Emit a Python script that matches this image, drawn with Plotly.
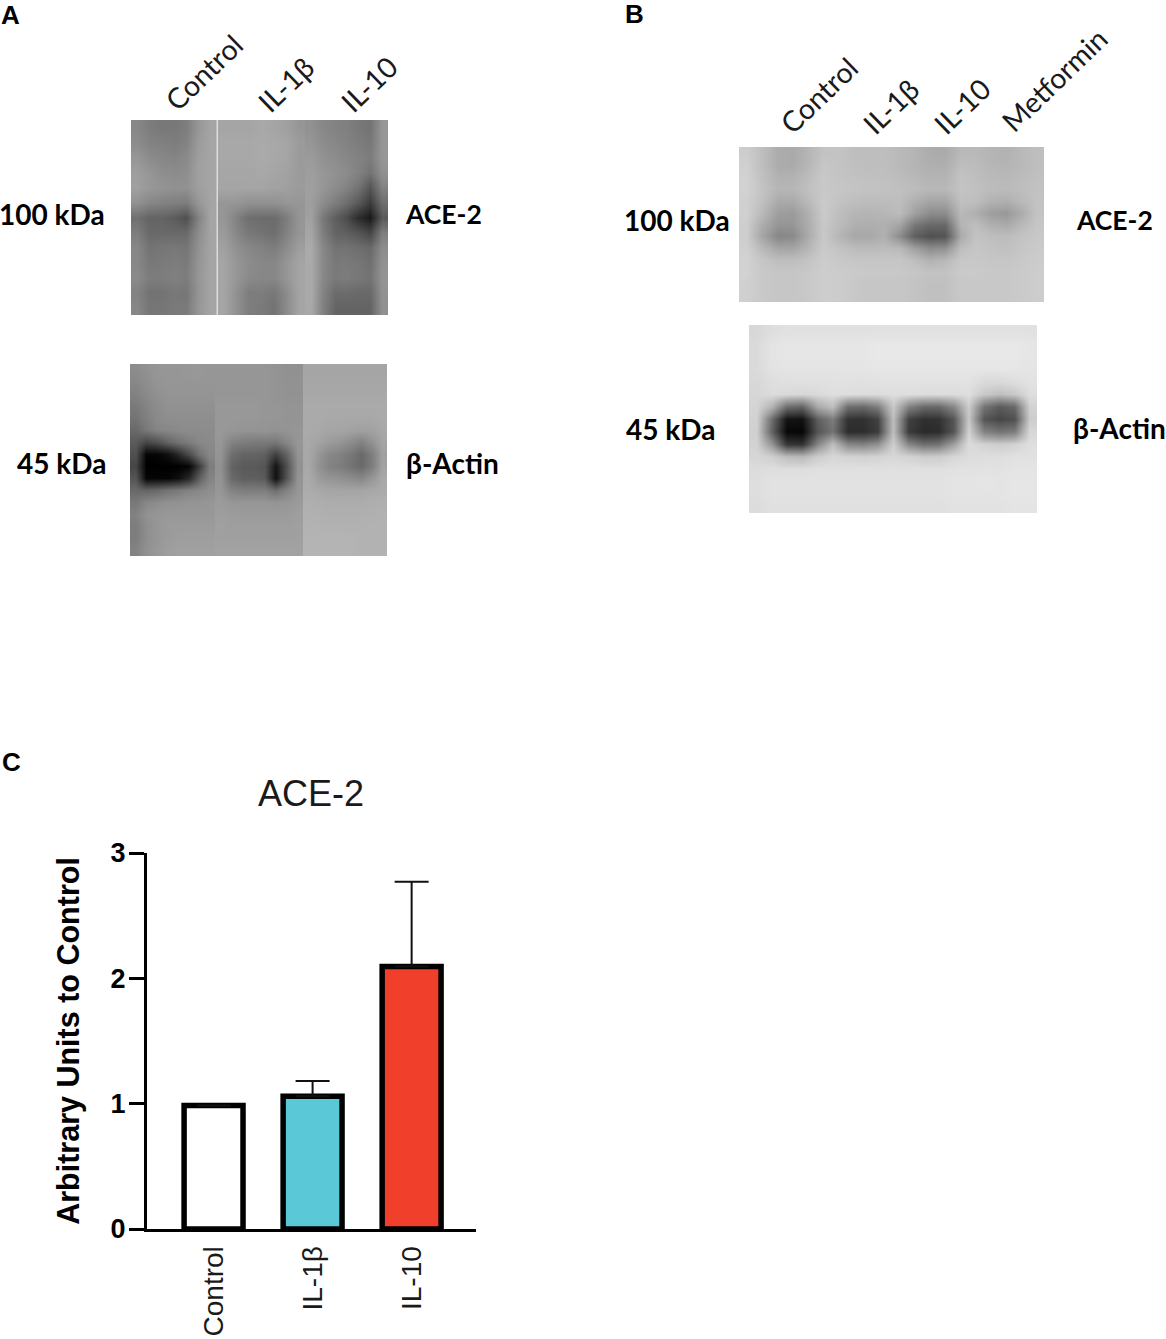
import plotly.graph_objects as go

W, H = 1166, 1339

# ---------- bar chart data ----------
categories = ["Control", "IL-1β", "IL-10"]
values = [0.985, 1.06, 2.095]
errors = [0.0, 0.12, 0.675]
bar_colors = ["#ffffff", "#5bc8d8", "#f0402b"]

# ---------- blot densities (grey levels) ----------
a_top_control = [
    [135,125,120,120,125,150,165],
    [140,130,128,125,130,155,165],
    [150,140,135,132,138,158,165],
    [158,150,142,140,142,160,165],
    [160,152,148,145,145,158,165],
    [145,135,130,128,125,150,165],
    [112,100,100,92,80,130,165],
    [125,105,105,105,105,140,165],
    [135,115,118,120,118,145,165],
    [135,120,122,125,122,148,165],
    [138,125,125,128,125,150,165],
    [130,115,115,120,118,148,165],
    [135,118,118,122,122,150,165],
]
a_top_il1 = [
    [165,165,165,168,165,160,150],
    [168,168,168,170,168,165,155],
    [168,168,168,170,168,165,155],
    [166,166,166,168,165,162,155],
    [165,165,165,165,162,160,155],
    [150,150,145,145,145,150,150],
    [150,130,110,108,108,125,150],
    [155,135,120,115,110,130,150],
    [160,145,135,130,125,140,158],
    [165,150,140,135,135,150,165],
    [165,150,138,135,135,150,165],
    [165,145,125,125,120,140,165],
    [165,145,125,122,115,140,165],
]
a_top_il10 = [
    [145,135,130,128,120,115,150],
    [150,140,135,130,125,120,150],
    [155,145,140,135,130,125,150],
    [158,150,145,140,130,115,145],
    [160,150,140,130,115,85,130],
    [158,140,125,110,90,60,110],
    [160,120,95,75,45,25,90],
    [165,125,100,95,85,70,125],
    [170,135,115,115,110,105,140],
    [170,135,120,122,118,112,145],
    [170,135,122,125,120,115,148],
    [170,130,108,108,105,105,145],
    [168,128,100,100,100,100,145],
]
a_bot_control = [
    [140,145,150,150,150,152,152,150],
    [135,142,148,150,150,150,150,150],
    [130,138,145,148,148,148,148,148],
    [122,132,140,145,145,145,145,145],
    [115,128,138,142,142,142,142,142],
    [105,120,132,135,138,140,140,140],
    [90,70,80,100,115,125,135,138],
    [80,5,5,15,40,75,115,135],
    [70,0,0,0,0,5,60,125],
    [85,5,5,5,15,40,95,132],
    [105,100,105,115,122,130,135,142],
    [120,135,140,145,145,148,148,150],
    [130,145,150,152,152,152,152,152],
    [125,142,150,155,155,155,155,155],
    [125,142,150,155,158,158,158,158],
    [130,145,152,158,160,160,160,160],
]
a_bot_il1 = [
    [150,150,150,150,150,148,145,145],
    [150,150,150,150,150,148,146,146],
    [150,150,150,150,150,148,146,146],
    [152,152,152,152,150,150,148,148],
    [152,152,152,152,150,150,148,148],
    [152,150,148,148,148,146,148,150],
    [150,130,125,122,122,120,135,150],
    [148,110,100,100,95,65,100,148],
    [145,100,90,90,85,20,80,145],
    [148,105,95,95,90,15,85,148],
    [150,130,125,125,125,110,130,150],
    [155,150,150,150,150,148,150,155],
    [158,156,155,155,155,155,155,158],
    [160,158,158,158,158,158,158,160],
    [160,160,160,160,160,160,160,160],
    [162,162,162,162,162,162,162,162],
]
a_bot_il10 = [
    [165,165,165,165,165,165,165,165],
    [166,166,166,166,166,166,166,166],
    [168,168,168,168,168,168,168,168],
    [170,170,170,170,170,170,170,170],
    [170,170,168,168,168,168,168,170],
    [170,168,165,165,162,160,162,168],
    [168,162,155,150,140,130,145,165],
    [168,150,135,130,120,105,125,160],
    [168,145,130,125,115,105,125,162],
    [170,155,148,145,140,135,150,168],
    [172,168,165,165,165,165,168,170],
    [175,174,172,172,172,172,174,175],
    [177,176,175,175,175,175,176,177],
    [178,178,177,177,177,177,178,178],
    [180,180,180,180,180,178,178,178],
    [180,180,180,180,180,178,178,178],
]
b_top = [
    [205,190,172,170,180,195,195,190,190,190,185,180,172,170,185,185,180,178,185,190],
    [208,190,172,170,182,198,195,192,190,190,185,180,175,175,190,188,182,180,185,190],
    [210,192,178,178,188,200,196,194,192,192,188,184,180,180,195,190,186,184,188,192],
    [210,195,182,182,192,200,198,196,194,194,192,188,184,184,196,192,188,186,190,194],
    [208,192,170,170,185,202,195,190,188,188,190,175,165,165,192,190,178,175,185,195],
    [208,185,158,155,175,202,190,182,180,182,188,160,140,140,185,175,158,152,172,195],
    [206,172,150,150,172,200,188,176,174,176,165,120,105,105,180,190,175,170,185,198],
    [206,165,135,138,170,200,182,168,168,176,140,95,80,85,170,195,190,188,195,200],
    [208,185,165,165,182,202,195,188,186,188,185,160,140,145,190,198,195,192,198,202],
    [210,198,190,190,195,204,200,198,198,198,198,190,178,185,200,200,198,198,200,204],
    [210,200,198,198,200,205,204,202,200,200,200,198,195,195,202,202,200,200,202,205],
    [208,200,198,198,200,205,204,200,198,198,198,195,192,192,200,200,200,200,202,205],
    [208,200,198,198,200,205,204,200,198,198,198,195,192,192,200,200,200,200,202,205],
]
b_bot = [
    [215,222,225,225,225,225,225,225,225,225,225,225,225,225,225,225,225,225,225],
    [218,228,230,230,230,230,230,230,232,232,232,232,232,232,232,232,232,232,230],
    [218,228,230,230,230,230,230,230,232,232,232,232,232,232,232,232,232,232,230],
    [218,226,228,228,228,228,228,228,230,230,230,230,230,230,230,230,230,230,228],
    [216,222,224,224,224,225,225,225,226,226,226,226,226,226,226,218,218,222,226],
    [214,220,218,215,218,222,222,220,220,222,222,220,220,220,222,200,190,200,222],
    [212,180,110,100,170,190,110,105,125,200,130,105,105,135,205,115,90,105,210],
    [210,110,20,18,95,125,50,48,65,190,65,48,50,85,200,85,70,80,205],
    [208,100,8,6,85,115,45,45,60,190,58,42,45,85,210,130,115,125,215],
    [210,150,55,50,135,190,135,130,145,205,135,110,115,160,220,210,205,210,222],
    [214,208,190,185,205,215,212,210,212,215,212,205,205,215,220,222,222,225,225],
    [220,222,222,222,224,224,224,224,224,224,224,224,224,225,226,226,226,228,228],
    [222,226,226,226,226,226,226,226,226,226,226,226,226,228,228,230,228,230,230],
    [222,226,226,226,226,226,226,226,226,226,226,226,226,228,228,228,228,230,230],
    [220,224,224,224,224,224,224,224,224,224,224,224,224,226,226,226,226,228,228],
]

# ---------- text ----------
lane_texts = ["Control", "IL-1β", "IL-10", "Control", "IL-1β", "IL-10", "Metformin"]
side_texts = ["100 kDa", "ACE-2", "45 kDa", "β-Actin", "100 kDa", "ACE-2", "45 kDa", "β-Actin"]
panel_texts = ["A", "B", "C"]

# ---------- page layout (pixels on the page) ----------
blot_boxes = [
    (a_top_control, 131, 216.7, 120, 315),
    (a_top_il1, 217.4, 305, 120, 315),
    (a_top_il10, 305, 388, 120, 315),
    (a_bot_control, 130, 215, 364, 556),
    (a_bot_il1, 215, 303, 364, 556),
    (a_bot_il10, 303, 387, 364, 556),
    (b_top, 739, 1044, 147, 302),
    (b_bot, 749, 1037, 325, 513),
]
lane_xy = [(204, 72), (286, 84), (369, 84), (819, 95), (891, 106), (962, 106), (1054, 80)]
side_xy = [(52, 214), (443, 214), (61, 463), (452, 463), (677, 220), (1114, 220), (670, 429), (1119, 428)]
panel_xy = [(10, 15), (634, 14), (11, 762)]


def fx(px):
    return px / W


def fy(py):
    return 1 - py / H


fig = go.Figure()
layout_axes = {}

for i, (z, left, right, top, bottom) in enumerate(blot_boxes, start=2):
    fig.add_trace(go.Heatmap(
        z=z, xaxis=f"x{i}", yaxis=f"y{i}", zsmooth="best", showscale=False,
        zmin=0, zmax=255, colorscale=[[0, "#000000"], [1, "#ffffff"]], hoverinfo="skip",
    ))
    layout_axes[f"xaxis{i}"] = dict(domain=[fx(left), fx(right)], range=[-0.5, len(z[0]) - 0.5],
                                    visible=False, anchor=f"y{i}", automargin=False)
    layout_axes[f"yaxis{i}"] = dict(domain=[fy(bottom), fy(top)], range=[len(z) - 0.5, -0.5],
                                    visible=False, anchor=f"x{i}", automargin=False)

fig.add_trace(go.Bar(
    x=[0, 1, 2], y=values, width=0.595,
    marker=dict(color=bar_colors, line=dict(color="#000000", width=5.5)),
    error_y=dict(type="data", symmetric=False, array=errors, arrayminus=[0, 0, 0],
                 color="#111111", thickness=2, width=17),
    xaxis="x", yaxis="y", showlegend=False,
))

annotations = []
for text, (x, y) in zip(lane_texts, lane_xy):
    annotations.append(dict(text=text, x=fx(x), y=fy(y), xref="paper", yref="paper", showarrow=False,
                            textangle=-44, xanchor="center", yanchor="middle",
                            font=dict(family="Lato", size=28.5, color="#1a1a1a")))
for text, (x, y) in zip(side_texts, side_xy):
    annotations.append(dict(text=text, x=fx(x), y=fy(y), xref="paper", yref="paper", showarrow=False,
                            xanchor="center", yanchor="middle",
                            font=dict(family="Lato", size=26.5 if text == "ACE-2" else 28,
                                      color="#000000", weight=700)))
for text, (x, y) in zip(panel_texts, panel_xy):
    annotations.append(dict(text=text, x=fx(x), y=fy(y), xref="paper", yref="paper", showarrow=False,
                            xanchor="center", yanchor="middle",
                            font=dict(family="Liberation Sans", size=26, color="#000000", weight=700)))

fig.update_layout(
    width=W, height=H, margin=dict(l=0, r=0, t=0, b=0, autoexpand=False),
    paper_bgcolor="#ffffff", plot_bgcolor="#ffffff", showlegend=False,
    font=dict(family="Liberation Sans", color="#000000"),
    title=dict(text="ACE-2", x=fx(311), y=fy(793), xref="paper", yref="paper",
               xanchor="center", yanchor="middle",
               font=dict(family="Liberation Sans", size=36, color="#1a1a1a")),
    xaxis=dict(domain=[fx(147), fx(476)], range=[-0.672, 2.65], tickmode="array", automargin=False,
               tickvals=[0, 1, 2], ticktext=categories, tickangle=-90, ticks="", ticklabelstandoff=3,
               tickfont=dict(size=28, color="#1a1a1a"), showgrid=False, zeroline=False,
               showline=True, linecolor="#000000", linewidth=3, anchor="y"),
    yaxis=dict(domain=[fy(1229), fy(853)], range=[0, 3], tickmode="array", tickvals=[0, 1, 2, 3], automargin=False,
               ticks="outside", ticklen=15, tickwidth=3, tickcolor="#000000", ticklabelstandoff=-2,
               tickfont=dict(size=27, color="#000000", weight=700), showgrid=False, zeroline=False,
               showline=True, linecolor="#000000", linewidth=3, anchor="x",
               title=dict(text="Arbitrary Units to Control", standoff=22,
                          font=dict(size=30.5, color="#000000", weight=700))),
    annotations=annotations,
    **layout_axes,
)

fig.write_html("out.html", config={"displayModeBar": False},
               post_script="document.body.style.margin='0';")
